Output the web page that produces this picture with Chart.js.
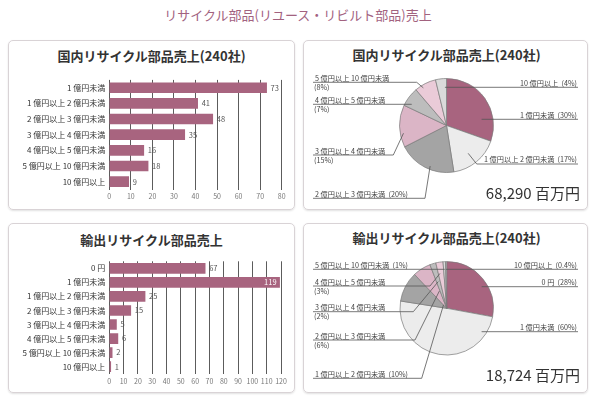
<!DOCTYPE html>
<html lang="ja">
<head>
<meta charset="utf-8">
<script src="https://cdn.jsdelivr.net/npm/chart.js@4"></script>
<style>
  html, body { margin: 0; padding: 0; background: #fff; }
  body { position: relative; width: 600px; height: 401px; overflow: hidden;
         font-family: "Noto Sans CJK JP", "Noto Sans", sans-serif; }
  #page-title { position: absolute; left: 0; width: 596px; top: 6px; text-align: center;
                font-size: 13px; color: #a2627f; line-height: 18px; }
  .panel { position: absolute; box-sizing: border-box; border: 1px solid #d9d3d6;
           border-radius: 5px; box-shadow: 0 1px 2px rgba(0,0,0,0.12); }
  .panel-title { position: absolute; text-align: center; font-size: 13px; font-weight: bold;
                 color: #333; line-height: 16px; }
  .total { position: absolute; right: 20px; font-size: 15px; color: #333; line-height: 18px; }
  canvas { position: absolute; }
</style>
</head>
<body>
<div id="page-title"></div>

<div class="panel" style="left:8px;top:40px;width:287px;height:170px"></div>
<div class="panel" style="left:303px;top:40px;width:285px;height:170px"></div>
<div class="panel" style="left:8px;top:223px;width:287px;height:170px"></div>
<div class="panel" style="left:303px;top:223px;width:285px;height:170px"></div>

<div class="panel-title" id="t-dom-bar" style="left:8px;width:287px;top:48px"></div>
<div class="panel-title" id="t-dom-pie" style="left:303px;width:287px;top:47px"></div>
<div class="panel-title" id="t-exp-bar" style="left:8px;width:287px;top:232px"></div>
<div class="panel-title" id="t-exp-pie" style="left:303px;width:287px;top:230px"></div>

<canvas id="dom-bar" width="287" height="170" style="left:8px;top:40px"></canvas>
<canvas id="dom-pie" width="285" height="170" style="left:303px;top:40px"></canvas>
<canvas id="exp-bar" width="287" height="170" style="left:8px;top:223px"></canvas>
<canvas id="exp-pie" width="285" height="170" style="left:303px;top:223px"></canvas>

<div class="total" id="dom-total" style="top:184px"></div>
<div class="total" id="exp-total" style="top:366px"></div>

<script>
"use strict";

// ── Data ───────────────────────────────────────────────────
const pageTitle = "リサイクル部品(リユース・リビルト部品)売上";
const domesticTitle = "国内リサイクル部品売上(240社)";
const exportBarTitle = "輸出リサイクル部品売上";
const exportPieTitle = "輸出リサイクル部品売上(240社)";

const domesticLabels = ["1 億円未満", "1 億円以上 2 億円未満", "2 億円以上 3 億円未満",
  "3 億円以上 4 億円未満", "4 億円以上 5 億円未満", "5 億円以上 10 億円未満", "10 億円以上"];
const domesticCounts = [73, 41, 48, 35, 16, 18, 9];
const domesticShares = ["30%", "17%", "20%", "15%", "7%", "8%", "4%"];
const domesticAxisMax = 80;
const domesticTotal = "68,290 百万円";

const exportLabels = ["0 円", "1 億円未満", "1 億円以上 2 億円未満", "2 億円以上 3 億円未満",
  "3 億円以上 4 億円未満", "4 億円以上 5 億円未満", "5 億円以上 10 億円未満", "10 億円以上"];
const exportCounts = [67, 119, 25, 15, 5, 6, 2, 1];
const exportShares = ["28%", "60%", "10%", "6%", "2%", "3%", "1%", "0.4%"];
const exportAxisMax = 120;
const exportTotal = "18,724 百万円";

const tickStep = 10;

// ── Styles / layout ────────────────────────────────────────
const $ = (id) => document.getElementById(id);
const FONT = "'Noto Sans CJK JP', 'Noto Sans', sans-serif";
const BAR_COLOR = "#a8647f";
const PIE_COLORS = ["#a8647f", "#ececec", "#a4a4a4", "#dbb5c6", "#bdbdbd", "#eacbd8", "#dadada", "#d0d0d0"];
const LINE_COLOR = "#555";

Chart.defaults.font.family = FONT;

// Leader-label placement for each slice (t = position within slice, rf = fraction of radius).
const domesticLeaders = [
  { side: "right", t: 0.73, rf: 0.76, lineY: 79.3 },
  { side: "right", t: 0.53, rf: 0.75, lineY: 124, elbowX: 173.7 },
  { side: "left", t: 0.43, rf: 0.93, lineY: 158.3, elbowX: 122 },
  { side: "left", t: 0.32, rf: 0.93, lineY: 115, elbowX: 90.3, wrap: true },
  { side: "left", t: 0.25, rf: 0.87, lineY: 64.3, wrap: true },
  { side: "left", t: 0.33, rf: 0.94, lineY: 42.3, elbowX: 113.7, wrap: true },
  { side: "right", t: 0.84, rf: 0.81, lineY: 47.3 },
];
const exportLeaders = [
  { side: "right", t: 0.58, rf: 0.88, lineY: 63.7 },
  { side: "right", t: 0.13, rf: 0.9, lineY: 108.7 },
  { side: "left", t: 1, rf: 0.1, lineY: 155.3, elbowX: 118.7 },
  { side: "left", t: 0.9, rf: 0.4, lineY: 117, elbowX: 112, wrap: true },
  { side: "left", t: 0.47, rf: 0.6, lineY: 88.7, elbowX: 110.3, wrap: true },
  { side: "left", t: 0.28, rf: 0.76, lineY: 63, elbowX: 127, wrap: true },
  { side: "left", t: 0.5, rf: 0.84, lineY: 46.3 },
  { side: "right", t: 0.5, rf: 0.84, lineY: 46.3 },
];

// ── Plugins ────────────────────────────────────────────────
/** Count label at the end of each bar (inside, in white, if it would overflow). */
const valueLabels = {
  id: "valueLabels",
  afterDatasetsDraw(chart) {
    const { ctx, chartArea } = chart;
    const values = chart.data.datasets[0].data;
    ctx.save();
    ctx.font = "7.5px " + FONT;
    ctx.textBaseline = "middle";
    chart.getDatasetMeta(0).data.forEach((bar, i) => {
      const txt = String(values[i]);
      const w = ctx.measureText(txt).width;
      if (bar.x + 4 + w > chartArea.right) {
        ctx.fillStyle = "#fff";
        ctx.textAlign = "right";
        ctx.fillText(txt, bar.x - 3, bar.y);
      } else {
        ctx.fillStyle = "#555";
        ctx.textAlign = "left";
        ctx.fillText(txt, bar.x + 4, bar.y);
      }
    });
    ctx.restore();
  },
};

/** Leader lines from each slice to its underlined label at the panel edge. */
const leaderLabels = {
  id: "leaderLabels",
  afterDatasetsDraw(chart, _args, opts) {
    const { ctx } = chart;
    const items = opts.items || [];
    const names = chart.data.labels;
    const shares = opts.shares;
    const leftX = 10, rightX = chart.width - 10;
    ctx.save();
    ctx.strokeStyle = LINE_COLOR;
    ctx.lineWidth = 0.8;
    ctx.fillStyle = "#444";
    ctx.font = "7.2px " + FONT;
    ctx.textBaseline = "middle";
    chart.getDatasetMeta(0).data.forEach((arc, i) => {
      const it = items[i];
      if (!it) return;
      const p = arc.getProps(["x", "y", "startAngle", "endAngle", "outerRadius"], true);
      const a = p.startAngle + it.t * (p.endAngle - p.startAngle);
      const ax = p.x + Math.cos(a) * it.rf * p.outerRadius;
      const ay = p.y + Math.sin(a) * it.rf * p.outerRadius;
      const ex = it.elbowX !== undefined ? it.elbowX : ax;
      const endX = it.side === "left" ? leftX : rightX;
      ctx.beginPath();
      ctx.moveTo(ax, ay);
      ctx.lineTo(ex, it.lineY);
      ctx.lineTo(endX, it.lineY);
      ctx.stroke();

      const share = "(" + shares[i] + ")";
      if (it.side === "right") {
        ctx.textAlign = "right";
        ctx.fillText(names[i] + "  " + share, rightX - 1, it.lineY - 4.5);
      } else if (it.wrap) {
        ctx.textAlign = "left";
        ctx.fillText(names[i], leftX + 2, it.lineY - 4);
        ctx.fillText(share, leftX + 1, it.lineY + 5);
      } else {
        ctx.textAlign = "left";
        ctx.fillText(names[i] + "  " + share, leftX + 2, it.lineY - 4.5);
      }
    });
    ctx.restore();
  },
};

// ── Chart builders ─────────────────────────────────────────
function barChart(id, labels, values, max, area) {
  return new Chart($(id), {
    type: "bar",
    data: {
      labels,
      datasets: [{ data: values, backgroundColor: BAR_COLOR, barThickness: 10 }],
    },
    options: {
      indexAxis: "y",
      responsive: false,
      animation: false,
      layout: { padding: { top: area.top, right: area.right, left: 0, bottom: 0 } },
      plugins: { legend: { display: false }, tooltip: { enabled: false } },
      scales: {
        x: {
          min: 0, max,
          ticks: { stepSize: tickStep, color: "#777", font: { size: 7 }, padding: 3,
                   maxRotation: 0, minRotation: 0, autoSkip: false },
          grid: { color: "#4a4a4a", lineWidth: 0.9, drawTicks: false },
          border: { display: false },
          afterFit: (s) => { s.height = area.xHeight; },
        },
        y: {
          ticks: { color: "#333", font: { size: 8 }, padding: 4, autoSkip: false },
          grid: { display: false, drawTicks: false },
          border: { display: false },
          afterFit: (s) => { s.width = area.left; },
        },
      },
    },
    plugins: [valueLabels],
  });
}

function pieChart(id, labels, values, shares, leaders, pad) {
  return new Chart($(id), {
    type: "pie",
    data: {
      labels,
      datasets: [{
        data: values,
        backgroundColor: PIE_COLORS,
        borderColor: "#7a7a7a",
        borderWidth: 0.7,
        hoverOffset: 0,
      }],
    },
    options: {
      responsive: false,
      animation: false,
      layout: { padding: pad },
      plugins: {
        legend: { display: false },
        tooltip: { enabled: false },
        leaderLabels: { items: leaders, shares },
      },
    },
    plugins: [leaderLabels],
  });
}

// ── Render ─────────────────────────────────────────────────
$("page-title").textContent = pageTitle;
$("t-dom-bar").textContent = domesticTitle;
$("t-dom-pie").textContent = domesticTitle;
$("t-exp-bar").textContent = exportBarTitle;
$("t-exp-pie").textContent = exportPieTitle;
$("dom-total").textContent = domesticTotal;
$("exp-total").textContent = exportTotal;

barChart("dom-bar", domesticLabels, domesticCounts, domesticAxisMax,
  { left: 101.3, right: 13.3, top: 39.9, xHeight: 20.5 });
barChart("exp-bar", exportLabels, exportCounts, exportAxisMax,
  { left: 101.3, right: 14, top: 38.3, xHeight: 19.3 });

pieChart("dom-pie", domesticLabels, domesticCounts, domesticShares, domesticLeaders,
  { left: 96.15, right: 94.15, top: 38.15, bottom: 37.15 });
pieChart("exp-pie", exportLabels, exportCounts, exportShares, exportLeaders,
  { left: 96.65, right: 94.25, top: 38.25, bottom: 37.65 });
</script>
</body>
</html>
